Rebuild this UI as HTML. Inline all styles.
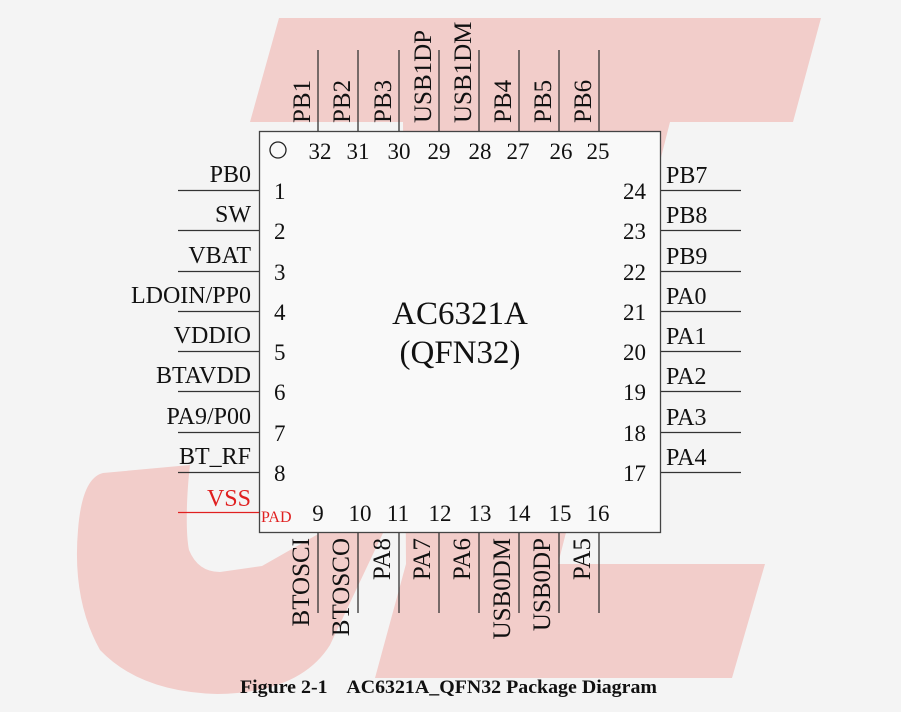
<!DOCTYPE html>
<html><head><meta charset="utf-8"><style>
html,body{margin:0;padding:0;background:#f4f4f4;}
svg{display:block;}
text{font-family:"Liberation Serif",serif;fill:#111;}
</style></head><body>
<svg width="901" height="712" viewBox="0 0 901 712" xmlns="http://www.w3.org/2000/svg">
<rect width="901" height="712" fill="#f4f4f4"/>
<g fill="#f2cdca">
<path d="M279,18 L821,18 L793,122 L670,122 L558,564 L765,564 L732,678 L375,678 L406,564 L403,122 L250,122 Z"/>
<path d="M103,473 L190,465 C187,490 185,530 189,550 Q198,572 220,572 L262,566 L320,533 L383,533 L330,645 Q300,693 217,694 Q140,692 100,650 Q72,600 78,530 Q82,478 103,473 Z"/>
</g>
<rect x="259.5" y="131.5" width="401" height="401" fill="#f9f9f9" stroke="#444" stroke-width="1.3"/>
<circle cx="278" cy="150" r="8" fill="none" stroke="#222" stroke-width="1.3"/>
<g stroke="#333" stroke-width="1.3">
<line x1="318" y1="50" x2="318" y2="131"/><line x1="358" y1="50" x2="358" y2="131"/><line x1="399" y1="50" x2="399" y2="131"/><line x1="439" y1="50" x2="439" y2="131"/><line x1="479" y1="50" x2="479" y2="131"/><line x1="519" y1="50" x2="519" y2="131"/><line x1="559" y1="50" x2="559" y2="131"/><line x1="599" y1="50" x2="599" y2="131"/>
<line x1="318" y1="533" x2="318" y2="613"/><line x1="358" y1="533" x2="358" y2="613"/><line x1="399" y1="533" x2="399" y2="613"/><line x1="439" y1="533" x2="439" y2="613"/><line x1="479" y1="533" x2="479" y2="613"/><line x1="519" y1="533" x2="519" y2="613"/><line x1="559" y1="533" x2="559" y2="613"/><line x1="599" y1="533" x2="599" y2="613"/>
<line x1="178" y1="190.5" x2="259" y2="190.5"/><line x1="178" y1="230.5" x2="259" y2="230.5"/><line x1="178" y1="271.5" x2="259" y2="271.5"/><line x1="178" y1="311.5" x2="259" y2="311.5"/><line x1="178" y1="351.5" x2="259" y2="351.5"/><line x1="178" y1="391.5" x2="259" y2="391.5"/><line x1="178" y1="432.5" x2="259" y2="432.5"/><line x1="178" y1="472.5" x2="259" y2="472.5"/>
<line x1="661" y1="190.5" x2="741" y2="190.5"/><line x1="661" y1="230.5" x2="741" y2="230.5"/><line x1="661" y1="271.5" x2="741" y2="271.5"/><line x1="661" y1="311.5" x2="741" y2="311.5"/><line x1="661" y1="351.5" x2="741" y2="351.5"/><line x1="661" y1="391.5" x2="741" y2="391.5"/><line x1="661" y1="432.5" x2="741" y2="432.5"/><line x1="661" y1="472.5" x2="741" y2="472.5"/>
</g>
<line x1="178" y1="512.5" x2="259" y2="512.5" stroke="#e02020" stroke-width="1.3"/>
<g font-size="25" text-anchor="start">
<text transform="translate(310,123) rotate(-90)">PB1</text>
<text transform="translate(350,123) rotate(-90)">PB2</text>
<text transform="translate(391,123) rotate(-90)">PB3</text>
<text transform="translate(431,123) rotate(-90)">USB1DP</text>
<text transform="translate(471,123) rotate(-90)">USB1DM</text>
<text transform="translate(511,123) rotate(-90)">PB4</text>
<text transform="translate(551,123) rotate(-90)">PB5</text>
<text transform="translate(591,123) rotate(-90)">PB6</text>
</g>
<g font-size="25" text-anchor="end">
<text transform="translate(309,538) rotate(-90)">BTOSCI</text>
<text transform="translate(349,538) rotate(-90)">BTOSCO</text>
<text transform="translate(390,538) rotate(-90)">PA8</text>
<text transform="translate(430,538) rotate(-90)">PA7</text>
<text transform="translate(470,538) rotate(-90)">PA6</text>
<text transform="translate(510,538) rotate(-90)">USB0DM</text>
<text transform="translate(550,538) rotate(-90)">USB0DP</text>
<text transform="translate(590,538) rotate(-90)">PA5</text>
</g>
<g font-size="24" text-anchor="end">
<text x="251" y="182">PB0</text><text x="251" y="222">SW</text><text x="251" y="263">VBAT</text><text x="251" y="303">LDOIN/PP0</text><text x="251" y="343">VDDIO</text><text x="251" y="383">BTAVDD</text><text x="251" y="424">PA9/P00</text><text x="251" y="464">BT_RF</text>
<text x="251" y="506" style="fill:#e02020">VSS</text>
</g>
<g font-size="24" text-anchor="start">
<text x="666" y="183">PB7</text><text x="666" y="223">PB8</text><text x="666" y="264">PB9</text><text x="666" y="304">PA0</text><text x="666" y="344">PA1</text><text x="666" y="384">PA2</text><text x="666" y="425">PA3</text><text x="666" y="465">PA4</text>
</g>
<g font-size="23" text-anchor="start">
<text x="274" y="199">1</text><text x="274" y="239">2</text><text x="274" y="280">3</text><text x="274" y="320">4</text><text x="274" y="360">5</text><text x="274" y="400">6</text><text x="274" y="441">7</text><text x="274" y="481">8</text>
</g>
<g font-size="23" text-anchor="end">
<text x="646" y="199">24</text><text x="646" y="239">23</text><text x="646" y="280">22</text><text x="646" y="320">21</text><text x="646" y="360">20</text><text x="646" y="400">19</text><text x="646" y="441">18</text><text x="646" y="481">17</text>
</g>
<g font-size="23" text-anchor="middle">
<text x="320" y="159">32</text><text x="358" y="159">31</text><text x="399" y="159">30</text><text x="439" y="159">29</text><text x="480" y="159">28</text><text x="518" y="159">27</text><text x="561" y="159">26</text><text x="598" y="159">25</text>
<text x="318" y="521">9</text><text x="360" y="521">10</text><text x="398" y="521">11</text><text x="440" y="521">12</text><text x="480" y="521">13</text><text x="519" y="521">14</text><text x="560" y="521">15</text><text x="598" y="521">16</text>
</g>
<text x="261" y="522" font-size="16" style="fill:#e02020">PAD</text>
<g font-size="33" text-anchor="middle">
<text x="460" y="324">AC6321A</text>
<text x="460" y="363">(QFN32)</text>
</g>
<text x="240" y="693" font-size="19" font-weight="bold" textLength="417" lengthAdjust="spacingAndGlyphs" xml:space="preserve">Figure 2-1    AC6321A_QFN32 Package Diagram</text>
</svg>
</body></html>
